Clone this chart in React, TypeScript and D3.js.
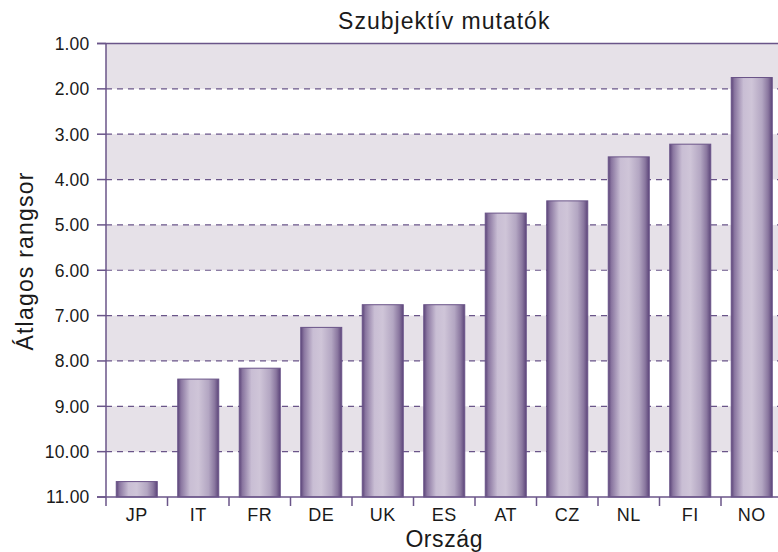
import React from 'react'
import * as d3 from 'd3'

const WIDTH = 778
const HEIGHT = 552
const MARGIN = { top: 43.5, right: -4.5, bottom: 55, left: 106 }

const countries = ['JP', 'IT', 'FR', 'DE', 'UK', 'ES', 'AT', 'CZ', 'NL', 'FI', 'NO']
const ranks = [10.66, 8.4, 8.16, 7.26, 6.76, 6.76, 4.74, 4.47, 3.5, 3.22, 1.75]
const yTicks = [1, 2, 3, 4, 5, 6, 7, 8, 9, 10, 11]

const AXIS = '#6a5589'
const BAND = '#e6e1e8'
const FONT = '"Liberation Sans", Arial, sans-serif'

const App = () => {
  const x0 = MARGIN.left
  const x1 = WIDTH - MARGIN.right
  const yBottom = HEIGHT - MARGIN.bottom

  const x = d3.scaleBand().domain(countries).range([x0, x1]).padding(0)
  const xBar = d3
    .scaleBand()
    .domain(countries)
    .range([x0, x1])
    .paddingInner(1 / 3)
    .paddingOuter(1 / 6)
  const y = d3.scaleLinear().domain([1, 11]).range([MARGIN.top, yBottom])

  // shaded stripes between odd ticks: 1-2, 3-4, ...
  const stripes = yTicks.filter(t => t % 2 === 1 && t < 11)

  return (
    <svg
      width={WIDTH}
      height={HEIGHT}
      style={{ position: 'absolute', left: 0, top: 0, background: '#fff' }}
    >
      <defs>
        <linearGradient id="barGrad" x1="0" x2="1" y1="0" y2="0">
          <stop offset="0" stopColor="#5c4579" />
          <stop offset="0.08" stopColor="#8a76a0" />
          <stop offset="0.3" stopColor="#c9bed4" />
          <stop offset="0.5" stopColor="#cfc5d8" />
          <stop offset="0.75" stopColor="#b3a6c2" />
          <stop offset="0.9" stopColor="#8a779f" />
          <stop offset="1" stopColor="#5c4579" />
        </linearGradient>
      </defs>

      {stripes.map(t => (
        <rect key={t} x={x0} y={y(t)} width={x1 - x0} height={y(t + 1) - y(t)} fill={BAND} />
      ))}

      {yTicks.slice(1, -1).map(t => (
        <line
          key={t}
          x1={x0}
          x2={x1}
          y1={y(t)}
          y2={y(t)}
          stroke={AXIS}
          strokeWidth={1.2}
          strokeDasharray="6 5"
        />
      ))}

      {countries.map((c, i) => (
        <rect
          key={c}
          x={xBar(c)}
          y={y(ranks[i])}
          width={xBar.bandwidth()}
          height={yBottom - y(ranks[i])}
          fill="url(#barGrad)"
          stroke="#6a5388"
          strokeWidth={1}
        />
      ))}

      {/* axes */}
      <line x1={x0 - 9} x2={x1} y1={MARGIN.top} y2={MARGIN.top} stroke={AXIS} strokeWidth={1.5} />
      <line x1={x0 - 9} x2={x1} y1={yBottom} y2={yBottom} stroke={AXIS} strokeWidth={1.5} />
      <line x1={x0} x2={x0} y1={MARGIN.top} y2={yBottom + 9} stroke={AXIS} strokeWidth={1.5} />

      {yTicks.map(t => (
        <g key={t} transform={`translate(0,${y(t)})`}>
          <line x1={x0 - 9} x2={x0} stroke={AXIS} strokeWidth={1.5} />
          <text
            x={89.5}
            dy="0.36em"
            textAnchor="end"
            fontFamily={FONT}
            fontSize={17.5}
            letterSpacing={0.2}
            fill="#1a1a1a"
          >
            {t.toFixed(2)}
          </text>
        </g>
      ))}

      {countries.map(c => (
        <g key={c}>
          <line
            x1={(x(c) as number) + x.bandwidth()}
            x2={(x(c) as number) + x.bandwidth()}
            y1={yBottom}
            y2={yBottom + 9}
            stroke={AXIS}
            strokeWidth={1.5}
          />
          <text
            x={(x(c) as number) + x.bandwidth() / 2}
            y={521}
            textAnchor="middle"
            fontFamily={FONT}
            fontSize={18}
            letterSpacing={0.4}
            fill="#1a1a1a"
          >
            {c}
          </text>
        </g>
      ))}

      <text
        x={(x0 + x1) / 2}
        y={29}
        textAnchor="middle"
        fontFamily={FONT}
        fontSize={23}
        letterSpacing={1}
        fill="#1a1a1a"
      >
        Szubjektív mutatók
      </text>

      <text
        x={(x0 + x1) / 2}
        y={546.5}
        textAnchor="middle"
        fontFamily={FONT}
        fontSize={23}
        letterSpacing={0.6}
        fill="#1a1a1a"
      >
        Ország
      </text>

      <text
        transform={`translate(33,261) rotate(-90)`}
        textAnchor="middle"
        fontFamily={FONT}
        fontSize={23}
        letterSpacing={1.2}
        fill="#1a1a1a"
      >
        Átlagos rangsor
      </text>
    </svg>
  )
}

export default App
